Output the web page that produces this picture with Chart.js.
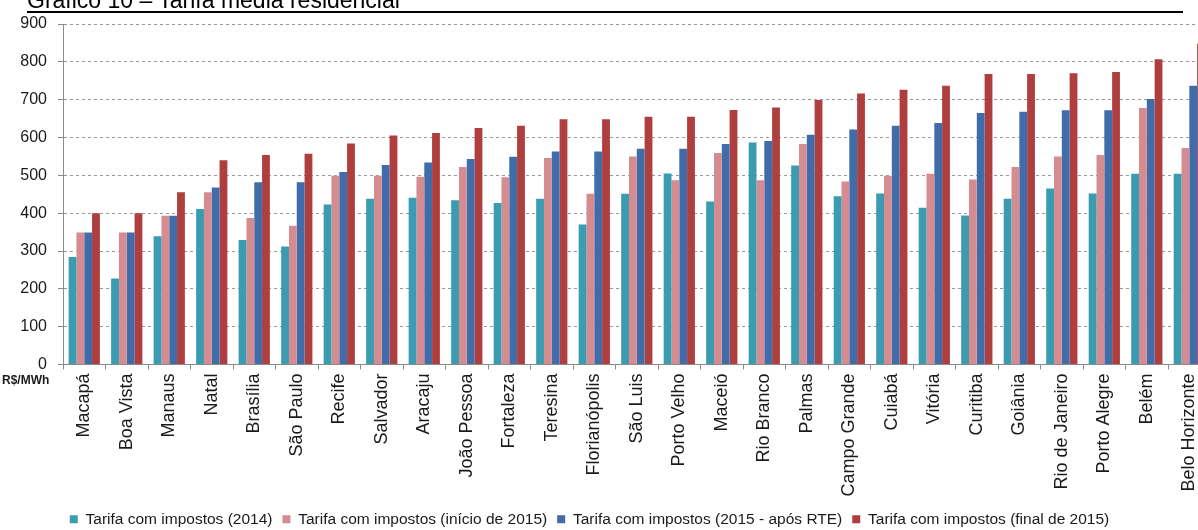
<!DOCTYPE html>
<html lang="pt-BR">
<head>
<meta charset="utf-8">
<title>Tarifa média residencial</title>
<script src="https://cdn.jsdelivr.net/npm/chart.js@4.4.1/dist/chart.umd.min.js"></script>
<style>
    html, body {
        margin: 0;
        padding: 0;
        background: #fff;
    }
    body {
        position: relative;
        width: 1198px;
        height: 530px;
        overflow: hidden;
        font-family: "Liberation Sans", Arial, sans-serif;
    }
    #chart-title {
        position: absolute;
        left: 27px;
        top: -10px;
        width: 1156px;
        font-size: 23px;
        line-height: 21px;
        color: #000;
        border-bottom: 2px solid #000;
        white-space: nowrap;
        z-index: 2;
    }
    #unit {
        position: absolute;
        left: 2px;
        top: 373px;
        font-size: 12px;
        line-height: 14px;
        font-weight: bold;
        color: #1a1a1a;
        z-index: 2;
    }
    #wrap {
        position: absolute;
        left: 0;
        top: 0;
    }
</style>
</head>
<body>
<div id="chart-title">Gráfico 10 – Tarifa média residencial</div>
<div id="unit">R$/MWh</div>
<div id="wrap"><canvas id="tarifa-chart" width="1215" height="537"></canvas></div>

<script>
// Capitais, da menor para a maior tarifa no final de 2015
const cities = [
    'Macapá', 'Boa Vista', 'Manaus', 'Natal', 'Brasília', 'São Paulo', 'Recife',
    'Salvador', 'Aracaju', 'João Pessoa', 'Fortaleza', 'Teresina', 'Florianópolis',
    'São Luis', 'Porto Velho', 'Maceió', 'Rio Branco', 'Palmas', 'Campo Grande',
    'Cuiabá', 'Vitória', 'Curitiba', 'Goiânia', 'Rio de Janeiro', 'Porto Alegre',
    'Belém', 'Belo Horizonte'
];

// R$/MWh
const tarifa2014 = [284, 227, 339, 411, 329, 312, 423, 438, 441, 434, 427, 438, 370,
    451, 505, 431, 587, 526, 445, 452, 414, 394, 438, 465, 452, 504, 504];
const tarifaInicio2015 = [349, 349, 393, 455, 387, 367, 499, 499, 496, 522, 495, 546, 451,
    550, 487, 559, 487, 583, 484, 499, 504, 489, 522, 550, 554, 678, 572];
const tarifaRte2015 = [349, 349, 393, 468, 482, 482, 509, 527, 534, 543, 549, 563, 563,
    570, 570, 583, 591, 607, 621, 631, 638, 665, 668, 672, 672, 702, 737];
const tarifaFinal2015 = [400, 400, 455, 540, 554, 557, 584, 605, 612, 625, 631, 648, 648,
    655, 655, 673, 679, 699, 716, 726, 737, 768, 768, 770, 773, 807, 848];

const seriesNames = [
    'Tarifa com impostos (2014)',
    'Tarifa com impostos (início de 2015)',
    'Tarifa com impostos (2015 - após RTE)',
    'Tarifa com impostos (final de 2015)'
];
const seriesColors = ['#3B9BB0', '#D58C91', '#406CAA', '#AF3E3E'];

const yMax = 900;
const yStep = 100;

const fontFamily = '"Liberation Sans", Arial, sans-serif';
const gridColor = '#9a9a9a';
const axisColor = '#8a8a8a';

const seriesValues = [tarifa2014, tarifaInicio2015, tarifaRte2015, tarifaFinal2015];

const datasets = seriesValues.map((values, i) => ({
    label: seriesNames[i],
    data: values,
    backgroundColor: seriesColors[i],
    borderWidth: 0,
    categoryPercentage: 0.735,
    barPercentage: 1.0
}));

const ctx = document.getElementById('tarifa-chart').getContext('2d');

new Chart(ctx, {
    type: 'bar',
    data: {
        labels: cities,
        datasets: datasets
    },
    options: {
        responsive: false,
        animation: false,
        layout: {
            // the last group runs past the right edge of the page
            padding: { left: -32, right: 4, top: 24, bottom: 0 }
        },
        plugins: {
            legend: {
                display: true,
                position: 'bottom',
                labels: {
                    boxWidth: 8,
                    boxHeight: 8,
                    padding: 10,
                    color: '#1a1a1a',
                    font: { family: fontFamily, size: 15.5 }
                }
            },
            tooltip: { enabled: false }
        },
        scales: {
            x: {
                grid: {
                    display: true,
                    drawOnChartArea: false,
                    drawTicks: true,
                    tickLength: 5,
                    color: axisColor
                },
                border: { display: true, color: axisColor, width: 1 },
                ticks: {
                    autoSkip: false,
                    minRotation: 90,
                    maxRotation: 90,
                    padding: 4,
                    color: '#1a1a1a',
                    font: { family: fontFamily, size: 18 }
                },
                afterFit: (scale) => {
                    scale.height = 137;
                }
            },
            y: {
                min: 0,
                max: yMax,
                ticks: {
                    stepSize: yStep,
                    padding: 11,
                    color: '#1a1a1a',
                    font: { family: fontFamily, size: 16 }
                },
                grid: {
                    color: gridColor,
                    lineWidth: 1,
                    drawTicks: true,
                    tickLength: 5,
                    tickColor: axisColor,
                    tickBorderDash: []
                },
                border: { display: true, color: axisColor, width: 1, dash: [3, 3] },
                afterFit: (scale) => {
                    scale.width = 95;
                }
            }
        }
    }
});
</script>
</body>
</html>
